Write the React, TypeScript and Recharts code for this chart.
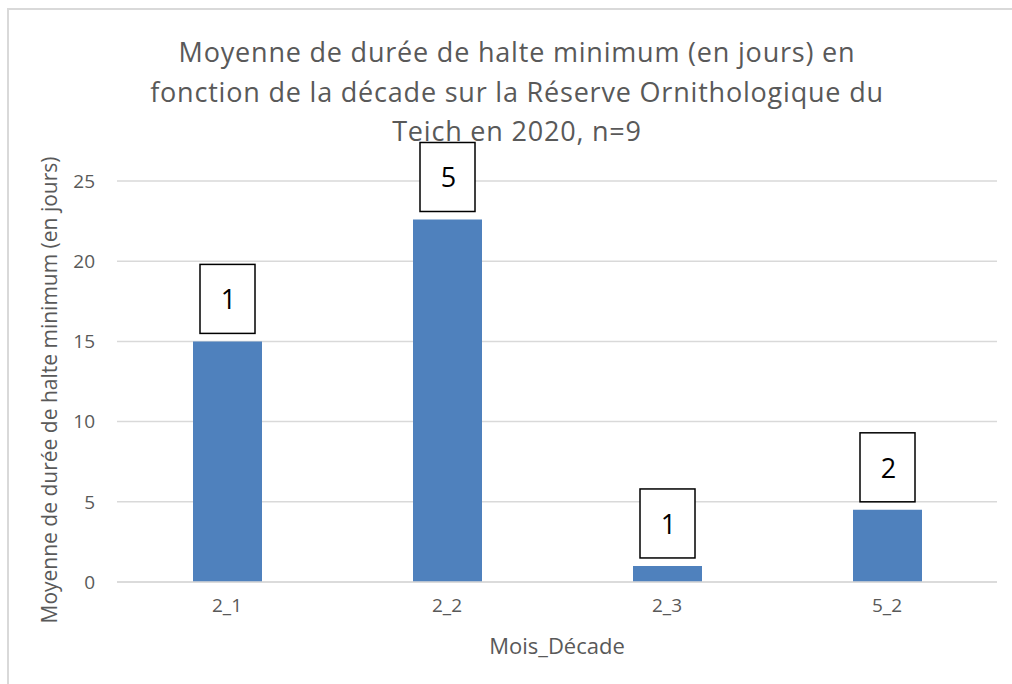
import React from 'react';
import { BarChart, Bar, XAxis, YAxis, CartesianGrid, LabelList } from 'recharts';

const categories = ['2_1', '2_2', '2_3', '5_2'];
const meanDuration = [15, 22.6, 1, 4.5];
const counts = [1, 5, 1, 2];
const yTicks = [0, 5, 10, 15, 20, 25];
const titleLines = [
  'Moyenne de durée de halte minimum (en jours) en',
  'fonction de la décade sur la Réserve Ornithologique du',
  'Teich en 2020, n=9',
];
const yTitle = 'Moyenne de durée de halte minimum (en jours)';
const xTitle = 'Mois_Décade';

const data = categories.map((c, i) => ({ cat: c, value: meanDuration[i], n: counts[i] }));

const FONT = "'Open Sans', 'Liberation Sans', sans-serif";
const GRAY = '#595959';

const BoxLabel = (props: any) => {
  const { x, y, width, value } = props;
  const bw = 55;
  const bh = 69;
  const cx = Number(x) + Number(width) / 2;
  const bottom = Number(y) - 8;
  return (
    <g>
      <rect x={cx - bw / 2} y={bottom - bh} width={bw} height={bh} fill="#ffffff" stroke="#000000" strokeWidth={1.5} />
      <text x={cx + 1} y={bottom - bh / 2} textAnchor="middle" dominantBaseline="central" fontSize={27} fontFamily={FONT} fill="#000000">
        {value}
      </text>
    </g>
  );
};

export default function App() {
  return (
    <div style={{ position: 'absolute', left: 0, top: 0, width: 1012, height: 684, background: '#ffffff', overflow: 'hidden' }}>
      <div style={{ position: 'absolute', left: 7, top: 8, right: 0, bottom: 0, borderLeft: '2px solid #d9d9d9', borderTop: '2px solid #d9d9d9' }} />
      <div style={{ position: 'absolute', left: 0, top: 0 }}>
        <BarChart width={1012} height={684} data={data} margin={{ top: 181, right: 15, bottom: 72, left: 0 }}>
          <CartesianGrid vertical={false} stroke="#d9d9d9" strokeWidth={1.5} />
          <XAxis
            dataKey="cat"
            height={30}
            axisLine={{ stroke: '#d9d9d9', strokeWidth: 1.5 }}
            tickLine={false}
            tickSize={0}
            tickMargin={17}
            tick={{ fill: GRAY, fontSize: 19, fontFamily: FONT }}
          />
          <YAxis
            width={117}
            domain={[0, 25]}
            ticks={yTicks}
            axisLine={false}
            tickLine={false}
            tickSize={0}
            tickMargin={22}
            tick={{ fill: GRAY, fontSize: 19, fontFamily: FONT }}
          />
          <Bar dataKey="value" fill="#4f81bd" barSize={69} isAnimationActive={false}>
            <LabelList dataKey="n" content={BoxLabel} />
          </Bar>
        </BarChart>
      </div>
      <svg width={1012} height={684} style={{ position: 'absolute', left: 0, top: 0, pointerEvents: 'none' }}>
        {titleLines.map((t, i) => (
          <text key={i} x={517} y={62 + i * 39.5} textAnchor="middle" fontSize={27} letterSpacing={0.8} fontFamily={FONT} fill={GRAY}>
            {t}
          </text>
        ))}
        <text
          x={0}
          y={0}
          transform="translate(57, 390) rotate(-90)"
          textAnchor="middle"
          fontSize={21}
          fontFamily={FONT}
          fill={GRAY}
        >
          {yTitle}
        </text>
        <text x={557} y={654} textAnchor="middle" fontSize={22} fontFamily={FONT} fill={GRAY}>
          {xTitle}
        </text>
      </svg>
    </div>
  );
}
